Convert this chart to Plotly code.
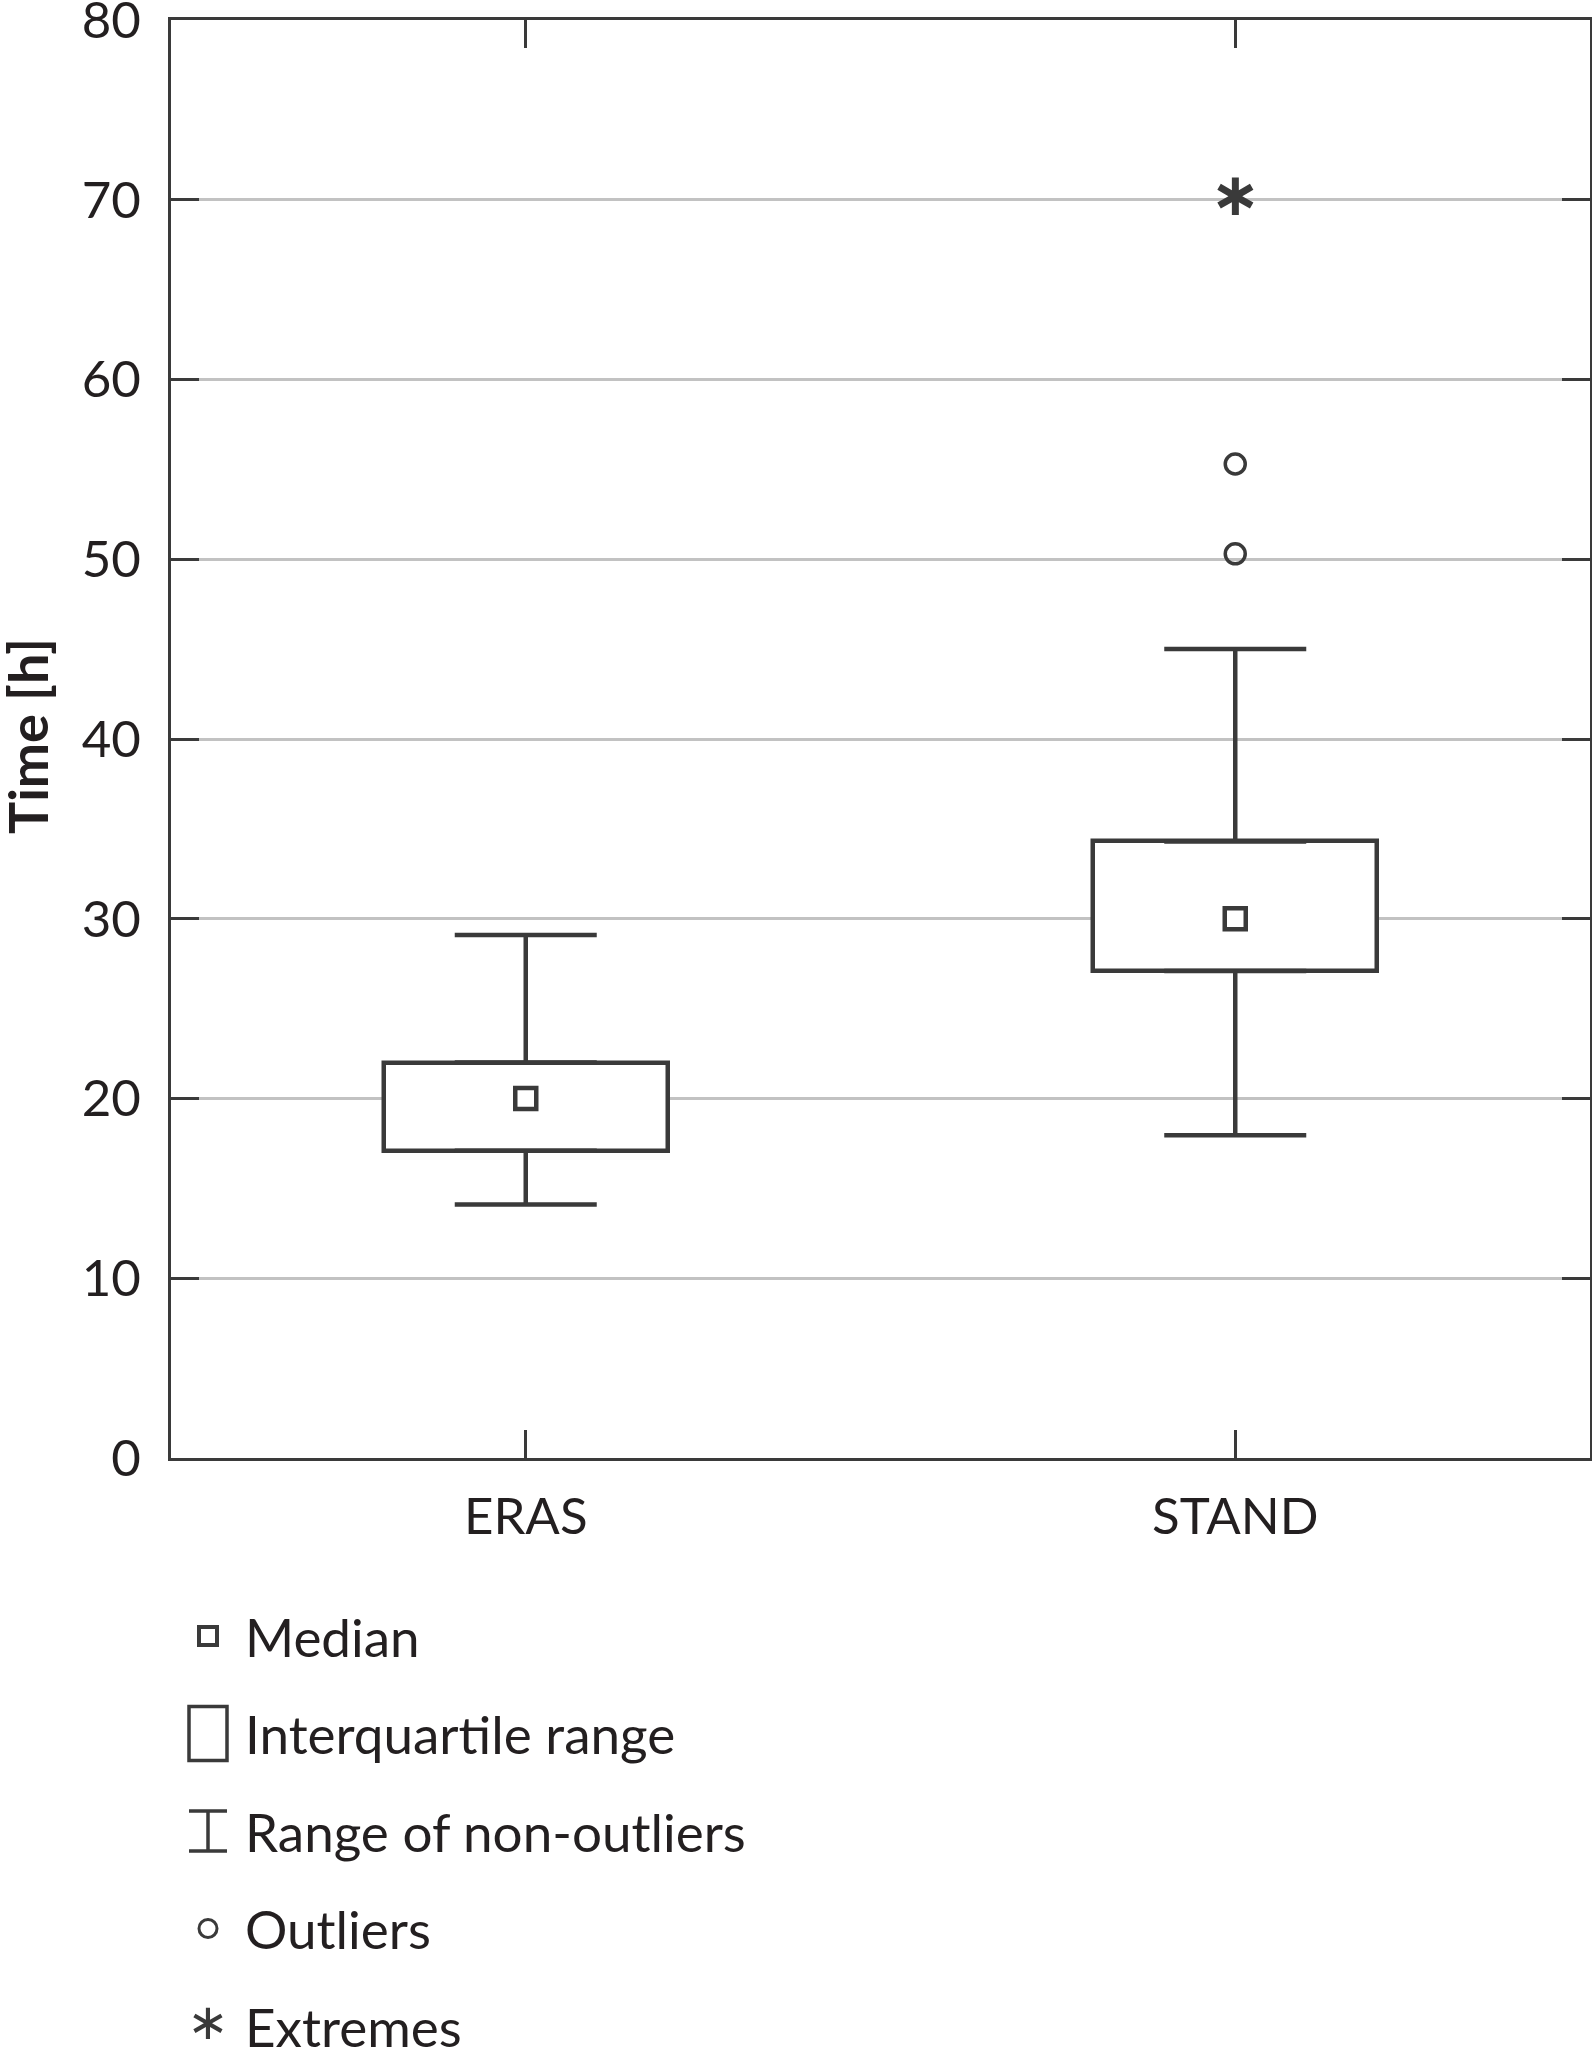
import plotly.graph_objects as go

# ---------------- data ----------------
categories = ["ERAS", "STAND"]
q1 = [17.1, 27.1]
median = [20.0, 30.0]
q3 = [22.0, 34.3]
whisker_low = [14.1, 17.95]
whisker_high = [29.1, 45.0]
outlier_cat = ["STAND", "STAND"]
outlier_val = [55.3, 50.3]
extreme_cat = ["STAND"]
extreme_val = [70.0]
y_ticks = [0, 10, 20, 30, 40, 50, 60, 70, 80]
y_title = "Time [h]"
legend_labels = ["Median", "Interquartile range", "Range of non-outliers", "Outliers", "Extremes"]

# ---------------- style ----------------
W, H = 1592, 2048
ML, MR, MT = 171, 2, 20
PLOT_BOTTOM = 1458
DARK = "#3a3a3a"
TEXT = "#231f20"
GRID = "#c2c2c2"
FONT = "Lato"
ydom0 = (H - PLOT_BOTTOM) / (H - MT)
PLOT_W = W - ML - MR

fig = go.Figure()

# interquartile boxes
fig.add_trace(go.Bar(
    x=categories, base=q1, y=[b - a for a, b in zip(q1, q3)], width=0.4,
    marker=dict(color="white", line=dict(color=DARK, width=4.5)),
    showlegend=False, hoverinfo="skip"))

# upper whiskers
fig.add_trace(go.Scatter(
    x=categories, y=q3, mode="markers", marker=dict(size=1, opacity=0),
    error_y=dict(type="data", symmetric=False,
                 array=[h - t for h, t in zip(whisker_high, q3)],
                 arrayminus=[0] * len(q3), width=71, thickness=4.5, color=DARK),
    showlegend=False, hoverinfo="skip"))

# lower whiskers
fig.add_trace(go.Scatter(
    x=categories, y=q1, mode="markers", marker=dict(size=1, opacity=0),
    error_y=dict(type="data", symmetric=False,
                 array=[0] * len(q1),
                 arrayminus=[b - l for b, l in zip(q1, whisker_low)],
                 width=71, thickness=4.5, color=DARK),
    showlegend=False, hoverinfo="skip"))

# medians
fig.add_trace(go.Scatter(
    x=categories, y=median, mode="markers",
    marker=dict(symbol="square-open", size=21, color=DARK, line=dict(width=4.5)),
    showlegend=False))

# outliers
fig.add_trace(go.Scatter(
    x=outlier_cat, y=outlier_val, mode="markers",
    marker=dict(symbol="circle-open", size=20, color=DARK, line=dict(width=3.5)),
    showlegend=False))

# extremes (typographic asterisk)
fig.add_trace(go.Scatter(
    x=extreme_cat, y=extreme_val, mode="text", text=["\u2217"] * len(extreme_val),
    textposition="middle center",
    textfont=dict(family="DejaVu Sans", size=60, color=DARK, weight=700),
    showlegend=False))

# ---------------- custom legend (pixel-unit axes below plot) ----------------
LEG_X = 208
LEG_TEXT_X = 243
LEG_Y0 = 1636
LEG_STEP = 97.5
leg_y = [LEG_Y0 + i * LEG_STEP for i in range(len(legend_labels))]

fig.add_trace(go.Scatter(
    x=[LEG_X], y=[leg_y[0]], xaxis="x2", yaxis="y2", mode="markers",
    marker=dict(symbol="square-open", size=18, color=DARK, line=dict(width=4)),
    showlegend=False, hoverinfo="skip"))
fig.add_shape(type="rect", xref="x2", yref="y2",
              x0=LEG_X - 19, x1=LEG_X + 19, y0=leg_y[1] - 27, y1=leg_y[1] + 27,
              line=dict(color=DARK, width=3.5), fillcolor="rgba(0,0,0,0)")
fig.add_trace(go.Scatter(
    x=[LEG_X], y=[leg_y[2]], xaxis="x2", yaxis="y2", mode="markers",
    marker=dict(size=1, opacity=0),
    error_y=dict(type="data", array=[20], width=19, thickness=3.5, color=DARK),
    showlegend=False, hoverinfo="skip"))
fig.add_trace(go.Scatter(
    x=[LEG_X], y=[leg_y[3]], xaxis="x2", yaxis="y2", mode="markers",
    marker=dict(symbol="circle-open", size=18, color=DARK, line=dict(width=3)),
    showlegend=False, hoverinfo="skip"))
fig.add_trace(go.Scatter(
    x=[LEG_X], y=[leg_y[4]], xaxis="x2", yaxis="y2", mode="text", text=["\u2217"],
    textposition="middle center",
    textfont=dict(family="DejaVu Sans", size=50, color=DARK, weight=400),
    showlegend=False, hoverinfo="skip"))

for lab, yy in zip(legend_labels, leg_y):
    fig.add_annotation(x=LEG_TEXT_X, y=yy, xref="x2", yref="y2", text=lab,
                       showarrow=False, xanchor="left", yanchor="middle",
                       font=dict(family=FONT, size=53, color=TEXT, weight=400))

# y-axis title (rotated), placed in the left margin
TITLE_X_PX, TITLE_Y_PX = 27, 736
fig.add_annotation(x=(TITLE_X_PX - ML) / PLOT_W, y=(H - TITLE_Y_PX) / (H - MT),
                   xref="paper", yref="paper", text="<b>" + y_title + "</b>",
                   textangle=-90, showarrow=False, xanchor="center", yanchor="middle",
                   font=dict(family=FONT, size=54, color=TEXT, weight=700))

axis_common = dict(showline=True, linecolor=DARK, linewidth=3, mirror="ticks",
                   ticks="inside", ticklen=28, tickwidth=3, tickcolor=DARK,
                   tickfont=dict(family=FONT, size=51, color=TEXT, weight=400),
                   zeroline=False, automargin=False, ticklabeloverflow="allow")

fig.update_layout(
    width=W, height=H,
    margin=dict(l=ML, r=MR, t=MT, b=0, pad=0, autoexpand=False),
    paper_bgcolor="white", plot_bgcolor="white",
    font=dict(family=FONT, color=TEXT),
    showlegend=False,
    bargap=0,
    xaxis=dict(type="category", categoryorder="array", categoryarray=categories,
               range=[-0.5, 1.5], showgrid=False, ticklabelstandoff=12,
               domain=[0, 1], anchor="y", **axis_common),
    yaxis=dict(range=[0, 80], tickvals=y_ticks, showgrid=True, gridcolor=GRID,
               gridwidth=2.5, ticklabelstandoff=17, domain=[ydom0, 1], anchor="x",
               **axis_common),
    xaxis2=dict(domain=[0, 1], anchor="y2", range=[ML, W - MR], visible=False,
                fixedrange=True),
    yaxis2=dict(domain=[0, ydom0], anchor="x2", range=[H, PLOT_BOTTOM], visible=False,
                fixedrange=True),
)

fig.write_html("out.html",
               config={"displayModeBar": False},
               post_script="document.body.style.margin='0';"
                           "document.body.style.overflow='hidden';")
